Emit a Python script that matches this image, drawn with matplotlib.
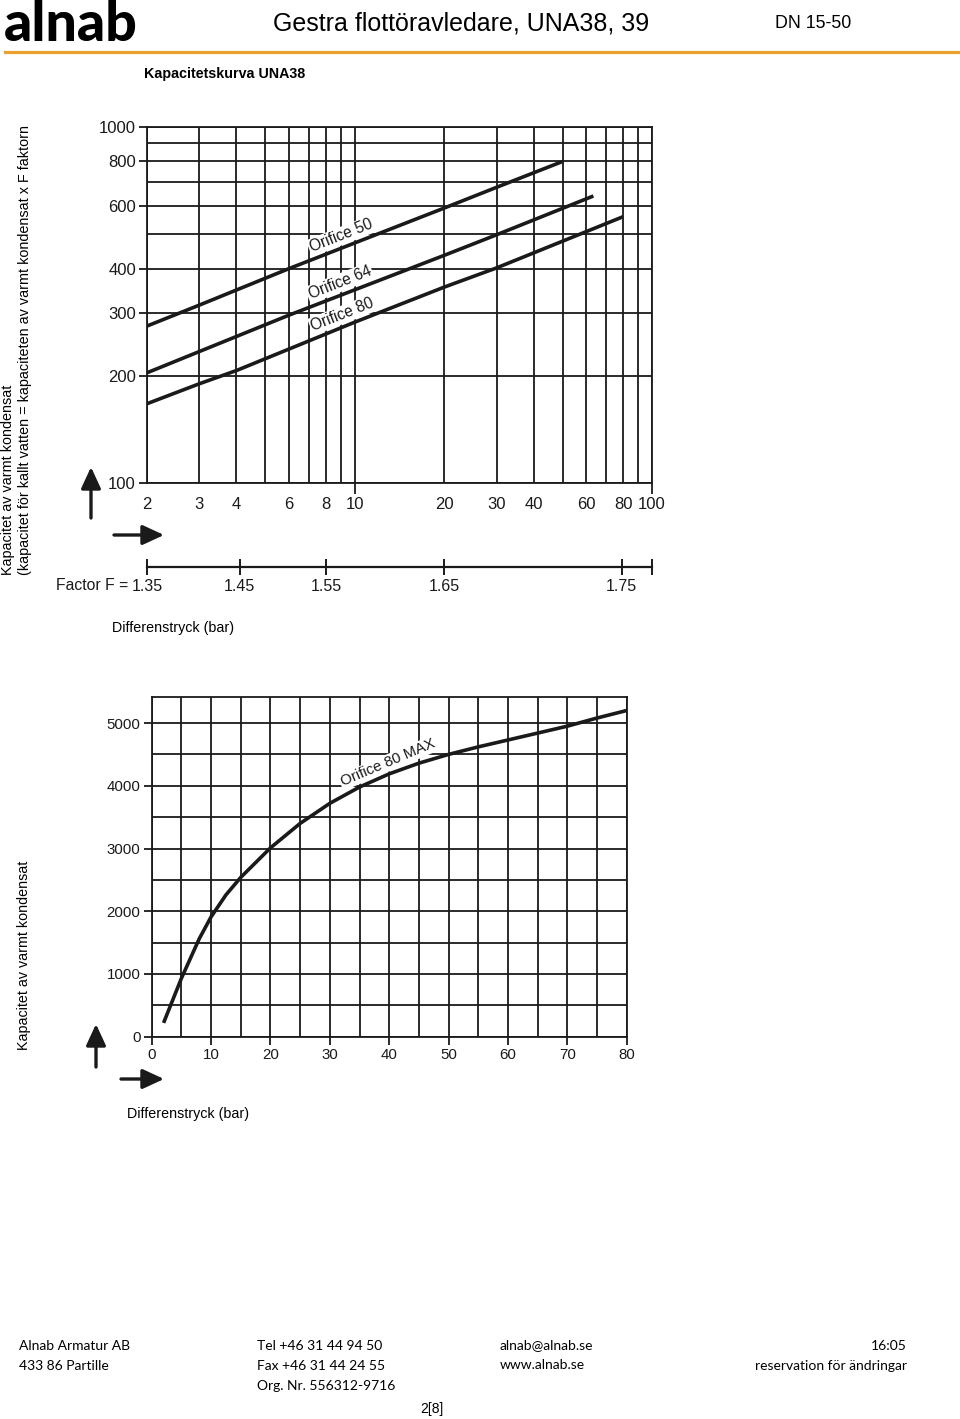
import matplotlib
matplotlib.use('Agg')
import matplotlib.pyplot as plt
import matplotlib.patches as mpatches
from matplotlib.ticker import FixedLocator, FixedFormatter, NullFormatter, NullLocator

# ---- data ----
# upper chart: capacity (kg/h) against differential pressure (bar), log-log
orifice50_dp = [2, 3, 6, 20, 30, 50]
orifice50_cap = [276, 316, 400, 592, 677, 800]
orifice64_dp = [2, 6, 20, 30, 63.5]
orifice64_cap = [204, 296, 436, 498, 640]
orifice80_dp = [2, 3, 4, 10, 20, 30, 80]
orifice80_cap = [167, 190, 207, 283, 355, 402, 560]

top_xticks = [2, 3, 4, 6, 8, 10, 20, 30, 40, 60, 80, 100]
top_xgrid = [5, 7, 9, 50, 70, 90]
top_yticks = [100, 200, 300, 400, 600, 800, 1000]
top_ygrid = [500, 700, 900]

# F factor scale under the upper chart
factor_dp = [2, 4.1, 8, 20, 79, 100]
factor_labels = ['1.35', '1.45', '1.55', '1.65', '1.75', '']

# lower chart: Orifice 80 MAX
max_dp = [2, 5, 8, 10, 12.5, 15, 20, 25, 30, 35, 40, 45, 50, 55, 60, 65, 70, 75, 80]
max_cap = [220, 930, 1560, 1910, 2260, 2540, 3010, 3400, 3720, 3980,
           4190, 4360, 4500, 4620, 4730, 4840, 4950, 5080, 5200]

W, H = 960, 1419
INK = '#1a1a1a'
SANS = ['Liberation Sans', 'DejaVu Sans']
FOOT = ['Lato', 'DejaVu Sans']


def rect(left, top, right, bottom):
    return [left / W, 1 - bottom / H, (right - left) / W, (bottom - top) / H]


def fx(px):
    return px / W


def fy(py):
    return 1 - py / H


def arrow(x0, y0, x1, y1):
    a = mpatches.FancyArrowPatch((fx(x0), fy(y0)), (fx(x1), fy(y1)),
                                 transform=fig.transFigure,
                                 arrowstyle='-|>,head_length=0.65,head_width=0.3',
                                 mutation_scale=20, lw=2.4, color=INK,
                                 shrinkA=0, shrinkB=0)
    fig.add_artist(a)


def frame(ax):
    for s in ax.spines.values():
        s.set_color(INK)
        s.set_linewidth(1.3)
    ax.grid(True, which='both', color=INK, lw=1.3)
    ax.set_axisbelow(True)


fig = plt.figure(figsize=(9.6, 14.19), dpi=100)

# header
fig.text(fx(4), fy(41), 'alnab', family=['Lato', 'DejaVu Sans'], fontweight='black',
         fontsize=40, va='baseline', ha='left')
fig.text(fx(273), fy(24), 'Gestra flottöravledare, UNA38, 39', family=SANS,
         fontsize=18, va='center')
fig.text(fx(775), fy(24), 'DN 15-50', family=SANS, fontsize=12.8, va='center')
fig.add_artist(plt.Line2D([fx(5), fx(960)], [fy(52), fy(52)], color='#E9A22F', lw=2.3))
fig.text(fx(144), fy(74), 'Kapacitetskurva UNA38', family=SANS, fontweight='bold',
         fontsize=10.3, va='center')

# ---- upper chart ----
ax1 = fig.add_axes(rect(147, 127, 652, 483))
for dp, cap in [(orifice50_dp, orifice50_cap), (orifice64_dp, orifice64_cap),
                (orifice80_dp, orifice80_cap)]:
    ax1.plot(dp, cap, color=INK, lw=2.6, solid_capstyle='butt', zorder=2)
ax1.set_xscale('log')
ax1.set_yscale('log')
ax1.set_xlim(2, 100)
ax1.set_ylim(100, 1000)
ax1.xaxis.set_major_locator(FixedLocator(top_xticks))
ax1.xaxis.set_major_formatter(FixedFormatter([str(v) for v in top_xticks]))
ax1.xaxis.set_minor_locator(FixedLocator(top_xgrid))
ax1.xaxis.set_minor_formatter(NullFormatter())
ax1.yaxis.set_major_locator(FixedLocator(top_yticks))
ax1.yaxis.set_major_formatter(FixedFormatter([str(v) for v in top_yticks]))
ax1.yaxis.set_minor_locator(FixedLocator(top_ygrid))
ax1.yaxis.set_minor_formatter(NullFormatter())
frame(ax1)
ax1.tick_params(axis='x', which='both', length=0, width=1.3, color=INK, pad=10)
ax1.tick_params(axis='y', which='major', length=6, width=1.3, color=INK, pad=2)
ax1.tick_params(axis='y', which='minor', length=0)
ax1.tick_params(which='major', labelsize=12, labelcolor=INK)
for lab in ax1.get_xticklabels() + ax1.get_yticklabels():
    lab.set_family(SANS)
for t in ax1.xaxis.get_major_ticks():
    if t.get_loc() in (10, 100):
        t.tick1line.set_markersize(8)

for txt, x, y in [('Orifice 50', 9.0, 494), ('Orifice 64', 8.9, 365), ('Orifice 80', 9.1, 297)]:
    ax1.text(x, y, txt, rotation=21.6, ha='center', va='center', fontsize=11.2,
             family=SANS, color=INK, zorder=3,
             bbox=dict(fc='white', ec='none', pad=1.0))

# F factor scale
axf = fig.add_axes(rect(147, 566, 652, 567))
axf.set_xscale('log')
axf.set_xlim(2, 100)
axf.patch.set_visible(False)
for k in ('top', 'left', 'right'):
    axf.spines[k].set_visible(False)
axf.spines['bottom'].set_color(INK)
axf.spines['bottom'].set_linewidth(1.6)
axf.yaxis.set_major_locator(NullLocator())
axf.xaxis.set_major_locator(FixedLocator(factor_dp))
axf.xaxis.set_major_formatter(FixedFormatter(factor_labels))
axf.xaxis.set_minor_locator(NullLocator())
axf.tick_params(axis='x', direction='inout', length=11, width=1.4, color=INK,
                pad=3, labelsize=11.5, labelcolor=INK)
for lab in axf.get_xticklabels():
    lab.set_family(SANS)
fig.text(fx(128), fy(586), 'Factor F =', ha='right', va='center', family=SANS,
         fontsize=11.3, color=INK)

fig.text(fx(8), fy(575), 'Kapacitet av varmt kondensat', rotation=90, ha='center',
         va='bottom', family=SANS, fontsize=10.4)
fig.text(fx(25), fy(575), '(kapacitet för kallt vatten = kapaciteten av varmt kondensat x F faktorn',
         rotation=90, ha='center', va='bottom', family=SANS, fontsize=10.4)
fig.text(fx(112), fy(628), 'Differenstryck (bar)', family=SANS, fontsize=10.3, va='center')
arrow(91, 518, 91, 467)
arrow(114, 535, 164, 535)

# ---- lower chart ----
ax2 = fig.add_axes(rect(151.7, 696.7, 626.7, 1036.7))
ax2.plot(max_dp, max_cap, color=INK, lw=2.6, solid_capstyle='butt',
         solid_joinstyle='round', zorder=2)
ax2.set_xlim(0, 80)
ax2.set_ylim(0, 5420)
ax2.xaxis.set_major_locator(FixedLocator(range(0, 81, 10)))
ax2.xaxis.set_minor_locator(FixedLocator(range(5, 80, 10)))
ax2.yaxis.set_major_locator(FixedLocator(range(0, 5001, 1000)))
ax2.yaxis.set_minor_locator(FixedLocator(range(500, 5001, 1000)))
frame(ax2)
ax2.tick_params(which='major', length=6, width=1.3, color=INK, labelsize=10.8,
                labelcolor=INK, pad=2)
ax2.tick_params(which='minor', length=0)
for lab in ax2.get_xticklabels() + ax2.get_yticklabels():
    lab.set_family(SANS)
ax2.text(39.8, 4365, 'Orifice 80 MAX', rotation=23, ha='center', va='center',
         fontsize=10.8, family=SANS, color=INK, zorder=3,
         bbox=dict(fc='white', ec='none', pad=1.0))

fig.text(fx(24), fy(1050), 'Kapacitet av varmt kondensat', rotation=90, ha='center',
         va='bottom', family=SANS, fontsize=10.3)
fig.text(fx(127), fy(1114), 'Differenstryck (bar)', family=SANS, fontsize=10.3, va='center')
arrow(96, 1067, 96, 1024)
arrow(121, 1079, 164, 1079)

# footer
foot = [
    (19, 1346, 'Alnab Armatur AB', 'left'),
    (19, 1366, '433 86 Partille', 'left'),
    (257, 1346, 'Tel +46 31 44 94 50', 'left'),
    (257, 1366, 'Fax +46 31 44 24 55', 'left'),
    (257, 1386, 'Org. Nr. 556312-9716', 'left'),
    (500, 1345, 'alnab@alnab.se', 'left'),
    (500, 1365, 'www.alnab.se', 'left'),
    (907, 1346, '16:05', 'right'),
    (907, 1366, 'reservation för ändringar', 'right'),
]
for x, y, s, ha in foot:
    fig.text(fx(x), fy(y), s, ha=ha, va='center', family=FOOT, fontsize=10)
fig.text(fx(420), fy(1409), '2[8]', ha='left', va='center', family=SANS, fontsize=10)

fig.savefig('out.png', dpi=100)
